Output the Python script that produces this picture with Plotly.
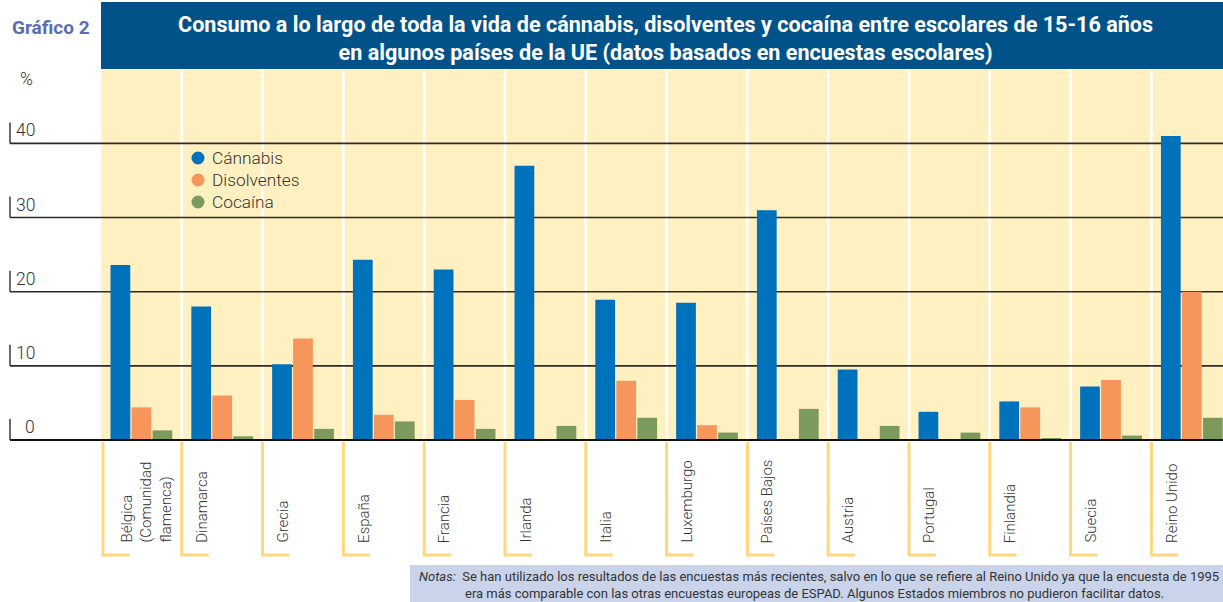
import plotly.graph_objects as go

categories = ["Bélgica (Comunidad flamenca)", "Dinamarca", "Grecia", "España", "Francia",
              "Irlanda", "Italia", "Luxemburgo", "Países Bajos", "Austria", "Portugal",
              "Finlandia", "Suecia", "Reino Unido"]
category_labels = ["Bélgica<br>(Comunidad<br>flamenca)", "Dinamarca", "Grecia", "España", "Francia",
                   "Irlanda", "Italia", "Luxemburgo", "Países Bajos", "Austria", "Portugal",
                   "Finlandia", "Suecia", "Reino Unido"]
cannabis = [23.6, 18.0, 10.2, 24.3, 23.0, 37.0, 18.9, 18.5, 31.0, 9.5, 3.8, 5.2, 7.2, 41.0]
disolventes = [4.4, 6.0, 13.7, 3.4, 5.4, None, 8.0, 2.0, None, None, None, 4.4, 8.1, 20.0]
cocaina = [1.3, 0.5, 1.5, 2.5, 1.5, 1.9, 3.0, 1.0, 4.2, 1.9, 1.0, 0.2, 0.6, 3.0]
series_names = ["Cánnabis", "Disolventes", "Cocaína"]
y_ticks = [0, 10, 20, 30, 40]

COLORS = ["#0071BB", "#F6965A", "#7B9A5C"]
FONT = "Roboto, Liberation Sans, sans-serif"
W, H = 1223, 602
L, T, B = 101, 70, 162
PW, PH = W - L, H - T - B
YMAX = 49.9
NVIS = 13.886  # visible category slots


def xp(px):
    return (px - L) / PW


def yp(py):
    return (T + PH - py) / PH


fig = go.Figure()
for name, vals, col in zip(series_names, [cannabis, disolventes, cocaina], COLORS):
    fig.add_trace(go.Bar(x=categories, y=vals, name=name, marker=dict(color=col, line=dict(width=0)),
                         showlegend=False))

shapes = []
annotations = []

# white separators between categories
for i in range(1, 14):
    xpap = i / NVIS
    shapes.append(dict(type="line", xref="paper", yref="paper", x0=xpap, x1=xpap, y0=0, y1=1,
                       line=dict(color="white", width=2.5), layer="below"))

# gridlines with left ticks and labels
for v in y_ticks:
    ypap = v / YMAX
    py = T + PH - v * PH / YMAX
    shapes.append(dict(type="line", xref="paper", yref="paper", x0=xp(10), x1=1, y0=ypap, y1=ypap,
                       line=dict(color="#2b2b2b" if v else "#111111", width=1.6 if v else 2),
                       layer="below" if v else "above"))
    shapes.append(dict(type="line", xref="paper", yref="paper", x0=xp(10), x1=xp(10),
                       y0=ypap, y1=yp(py - 21), line=dict(color="#2b2b2b", width=1.4)))
    annotations.append(dict(text=str(v), xref="paper", yref="paper", x=xp(37), y=yp(py - 1),
                            xanchor="right", yanchor="bottom", showarrow=False,
                            font=dict(family=FONT, size=17.5, color="#333333", weight=300)))

# category brackets and labels
for i, lab in enumerate(category_labels):
    bx = L + 80.8 * i + (2 if i == 0 else 0)
    shapes.append(dict(type="line", xref="paper", yref="paper", x0=xp(bx), x1=xp(bx),
                       y0=yp(442), y1=yp(555), line=dict(color="#FFD77E", width=3)))
    shapes.append(dict(type="line", xref="paper", yref="paper", x0=xp(bx - 1.5), x1=xp(bx + 27),
                       y0=yp(555), y1=yp(555), line=dict(color="#FFD77E", width=3)))
    cx = 146 if i == 0 else L + 80.8 * i + 20
    annotations.append(dict(text=lab, xref="paper", yref="paper", x=xp(cx), y=yp(545),
                            xanchor="center", yanchor="bottom", textangle=-90, align="left",
                            showarrow=False, font=dict(family=FONT, size=15, color="#333333", weight=300)))

# title bar
shapes.append(dict(type="rect", xref="paper", yref="paper", x0=0, x1=1, y0=yp(69), y1=yp(2),
                   fillcolor="#02528A", line=dict(width=0)))
annotations.append(dict(text="<b>Consumo a lo largo de toda la vida de cánnabis, disolventes y cocaína entre escolares de 15-16 años<br>"
                             "en algunos países de la UE (datos basados en encuestas escolares)</b>",
                        xref="paper", yref="paper", x=xp(665), y=yp(39), xanchor="center", yanchor="middle",
                        showarrow=False, align="center",
                        font=dict(family=FONT, size=21.6, color="white")))
annotations.append(dict(text="<b>Gráfico 2</b>", xref="paper", yref="paper", x=xp(10), y=yp(27),
                        xanchor="left", yanchor="middle", showarrow=False,
                        font=dict(family=FONT, size=19, color="#5A6DB4")))
annotations.append(dict(text="%", xref="paper", yref="paper", x=xp(26), y=yp(79),
                        xanchor="center", yanchor="middle", showarrow=False,
                        font=dict(family=FONT, size=17.5, color="#333333", weight=300)))

# legend
for k, (name, col) in enumerate(zip(series_names, COLORS)):
    cy = 158 + 22 * k
    r = 6.5
    shapes.append(dict(type="circle", xref="paper", yref="paper", x0=xp(198 - r), x1=xp(198 + r),
                       y0=yp(cy + r), y1=yp(cy - r), fillcolor=col, line=dict(width=0)))
    annotations.append(dict(text=name, xref="paper", yref="paper", x=xp(210), y=yp(cy),
                            xanchor="left", yanchor="middle", showarrow=False,
                            font=dict(family=FONT, size=17.3, color="#333333", weight=300)))

# notes box
shapes.append(dict(type="rect", xref="paper", yref="paper", x0=xp(410), x1=1, y0=yp(602), y1=yp(565),
                   fillcolor="#C9D4EB", line=dict(width=0)))
annotations.append(dict(text="<i>Notas:</i>  Se han utilizado los resultados de las encuestas más recientes, salvo en lo que se refiere al Reino Unido ya que la encuesta de 1995",
                        xref="paper", yref="paper", x=xp(417), y=yp(576), xanchor="left", yanchor="middle",
                        showarrow=False, font=dict(family=FONT, size=13, color="#333333")))
annotations.append(dict(text="era más comparable con las otras encuestas europeas de ESPAD. Algunos Estados miembros no pudieron facilitar datos.",
                        xref="paper", yref="paper", x=xp(463), y=yp(593), xanchor="left", yanchor="middle",
                        showarrow=False, font=dict(family=FONT, size=13, color="#333333")))

fig.update_layout(
    width=W, height=H,
    margin=dict(l=L, r=0, t=T, b=B),
    paper_bgcolor="white", plot_bgcolor="#FEF0C0",
    barmode="group", bargap=0.22, bargroupgap=0.06,
    shapes=shapes, annotations=annotations,
    font=dict(family=FONT),
    xaxis=dict(type="category", range=[-0.5, -0.5 + NVIS], showticklabels=False, showgrid=False,
               zeroline=False, showline=False, ticks="", fixedrange=True),
    yaxis=dict(range=[0, YMAX], showticklabels=False, showgrid=False, zeroline=False,
               showline=False, ticks="", fixedrange=True),
)

fig.write_html("out.html")
